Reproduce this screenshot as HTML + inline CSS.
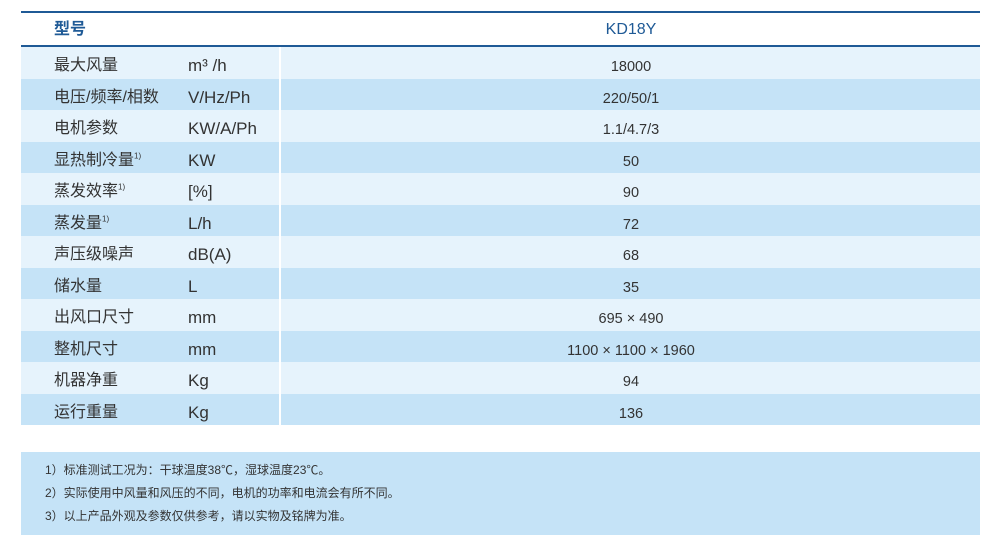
<!DOCTYPE html>
<html><head><meta charset="utf-8"><style>
body{margin:0;background:#fff;width:1000px;height:550px;position:relative;overflow:hidden;font-family:"Liberation Sans","Noto Sans CJK SC",sans-serif;color:#333}
.top{position:absolute;left:21px;width:959px;height:2px;background:#1f5a96}
.hdr{position:absolute;top:14px;height:32px;line-height:32px;color:#1f5a96;font-size:16px}
.row{position:absolute;left:21px;width:959px;height:31.5px;line-height:31.5px;font-size:16px}
.row span{position:absolute}
.a{left:33px;top:3px}.b{left:167px;font-size:17px;top:3px}.c{left:261px;width:698px;text-align:center;font-size:14.5px;top:5px}
.div{position:absolute;left:279px;top:47px;width:2px;height:378px;background:#fff}
.l{background:#e6f3fc}.d{background:#c5e3f7}
sup{font-size:8px;line-height:0}
.notes{position:absolute;left:21px;top:452px;width:959px;height:83px;background:#c5e3f7;font-size:12px;color:#333}
.notes div{position:absolute;left:24px}
</style></head><body>
<div class="top" style="top:11px"></div>
<div class="hdr" style="left:54px;font-weight:bold">型号</div>
<div class="hdr" style="left:282px;width:698px;text-align:center">KD18Y</div>
<div class="top" style="top:45px"></div>
<div class="row l" style="top:47px"><span class="a">最大风量</span><span class="b">m³ /h</span><span class="c">18000</span></div>
<div class="row d" style="top:78.5px"><span class="a">电压/频率/相数</span><span class="b">V/Hz/Ph</span><span class="c">220/50/1</span></div>
<div class="row l" style="top:110px"><span class="a">电机参数</span><span class="b">KW/A/Ph</span><span class="c">1.1/4.7/3</span></div>
<div class="row d" style="top:141.5px"><span class="a">显热制冷量<sup>1)</sup></span><span class="b">KW</span><span class="c">50</span></div>
<div class="row l" style="top:173px"><span class="a">蒸发效率<sup>1)</sup></span><span class="b">[%]</span><span class="c">90</span></div>
<div class="row d" style="top:204.5px"><span class="a">蒸发量<sup>1)</sup></span><span class="b">L/h</span><span class="c">72</span></div>
<div class="row l" style="top:236px"><span class="a">声压级噪声</span><span class="b">dB(A)</span><span class="c">68</span></div>
<div class="row d" style="top:267.5px"><span class="a">储水量</span><span class="b">L</span><span class="c">35</span></div>
<div class="row l" style="top:299px"><span class="a">出风口尺寸</span><span class="b">mm</span><span class="c">695 × 490</span></div>
<div class="row d" style="top:330.5px"><span class="a">整机尺寸</span><span class="b">mm</span><span class="c">1100 × 1100 × 1960</span></div>
<div class="row l" style="top:362px"><span class="a">机器净重</span><span class="b">Kg</span><span class="c">94</span></div>
<div class="row d" style="top:393.5px"><span class="a">运行重量</span><span class="b">Kg</span><span class="c">136</span></div>
<div class="div"></div>
<div class="notes">
<div style="top:9px">1）标准测试工况为：干球温度38℃，湿球温度23℃。</div>
<div style="top:32px">2）实际使用中风量和风压的不同，电机的功率和电流会有所不同。</div>
<div style="top:55px">3）以上产品外观及参数仅供参考，请以实物及铭牌为准。</div>
</div>
</body></html>
